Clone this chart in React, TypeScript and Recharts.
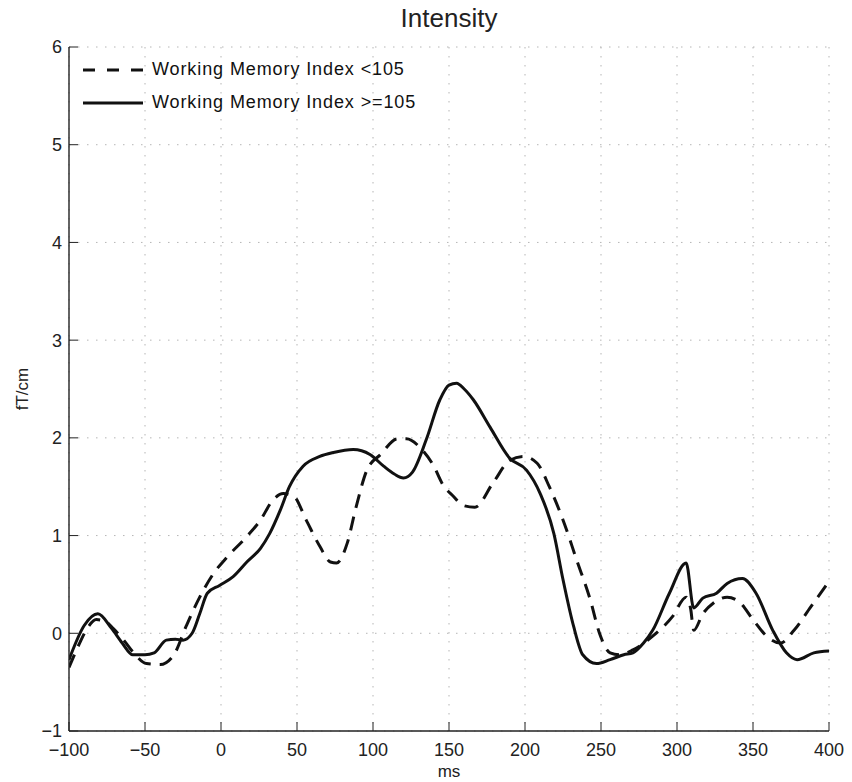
import React from "react";
import {
  LineChart,
  Line,
  XAxis,
  YAxis,
  CartesianGrid,
  Legend,
} from "recharts";

// ---- Data ----
const seriesNames = ["Working Memory Index <105", "Working Memory Index >=105"];

const xTicks = [-100, -50, 0, 50, 100, 150, 200, 250, 300, 350, 400];
const yTicks = [-1, 0, 1, 2, 3, 4, 5, 6];

// dashed series (<105)
const lowMs = [
  -100, -93, -88, -82, -76, -71, -64, -58, -49, -40, -31, -23, -14, -5, 4, 17, 26, 34, 41, 48, 56, 65, 72,
  76, 83, 89, 96, 105, 116, 122, 131, 140, 146, 153, 159, 167, 179, 190, 199, 208, 216, 225, 234, 243,
  249, 256, 262, 271, 284, 297, 306, 309, 311, 317, 324, 333, 341, 350, 359, 368, 377, 388, 400,
];
const lowVals = [
  -0.35, -0.1, 0.05, 0.14, 0.12, 0.05, -0.07, -0.19, -0.31, -0.32, -0.22, 0.07, 0.37, 0.61, 0.78, 0.99,
  1.16, 1.36, 1.43, 1.4, 1.16, 0.89, 0.73, 0.72, 0.92, 1.3, 1.67, 1.83, 1.99, 1.99, 1.9, 1.71, 1.52,
  1.4, 1.31, 1.29, 1.54, 1.77, 1.81, 1.74, 1.5, 1.16, 0.75, 0.34, 0.0, -0.2, -0.22, -0.17, -0.03, 0.17,
  0.37, 0.25, 0.03, 0.2, 0.31, 0.37, 0.32, 0.14, -0.03, -0.1, 0.03, 0.27, 0.53,
];

// solid series (>=105)
const highMs = [
  -100, -90, -81, -72, -65, -58, -50, -44, -36, -30, -25, -19, -14, -9, -1, 8, 17, 26, 32, 39, 45, 54,
  65, 74, 87, 98, 107, 114, 120, 126, 135, 144, 150, 155, 160, 166, 177, 190, 201, 210, 219, 225, 232,
  238, 247, 256, 265, 271, 278, 284, 295, 306, 311, 317, 326, 333, 343, 352, 363, 372, 379, 390, 400,
];
const highVals = [
  -0.27, 0.08, 0.2, 0.05, -0.1, -0.22, -0.22, -0.2, -0.07, -0.06, -0.07, 0.0, 0.2, 0.41, 0.49, 0.58,
  0.73, 0.87, 1.02, 1.26, 1.5, 1.71, 1.81, 1.85, 1.88, 1.83, 1.71, 1.63, 1.59, 1.65, 1.98, 2.39, 2.54,
  2.56, 2.5, 2.39, 2.11, 1.79, 1.67, 1.43, 1.02, 0.55, 0.07, -0.22, -0.31, -0.27, -0.22, -0.2, -0.1,
  0.03, 0.41, 0.72, 0.26, 0.36, 0.41, 0.51, 0.56, 0.41, 0.03, -0.2, -0.27, -0.2, -0.18,
];

const lowData = lowMs.map((ms, i) => ({ ms, v: lowVals[i] }));
const highData = highMs.map((ms, i) => ({ ms, v: highVals[i] }));

const FONT = '"Liberation Sans", Arial, Helvetica, sans-serif';
const INK = "#111";
const fmt = (v: number) => String(v).replace("-", "\u2212");

const legendDash = ["12 12", undefined];

const renderLegend = (props: any) => {
  const payload = props.payload || [];
  return (
    <div style={{ fontFamily: FONT, fontSize: 18, letterSpacing: 0.9, color: INK }}>
      {payload.map((e: any, i: number) => (
        <div key={i} style={{ display: "flex", alignItems: "center", height: 33 }}>
          <svg width={60} height={10} style={{ display: "block" }}>
            <line
              x1={0}
              y1={5}
              x2={60}
              y2={5}
              stroke={INK}
              strokeWidth={3}
              strokeDasharray={legendDash[i]}
            />
          </svg>
          <span style={{ marginLeft: 9, whiteSpace: "nowrap" }}>{e.value}</span>
        </div>
      ))}
    </div>
  );
};

export default function App() {
  const tickStyle = { fontFamily: FONT, fontSize: 18, fill: "#222" };
  return (
    <div
      style={{
        position: "absolute",
        left: 0,
        top: 0,
        width: 852,
        height: 782,
        background: "#fff",
        overflow: "hidden",
      }}
    >
      <div
        style={{
          position: "absolute",
          left: 69,
          width: 760,
          top: 5,
          textAlign: "center",
          fontFamily: FONT,
          fontSize: 26,
          lineHeight: "26px",
          color: "#222",
          zIndex: 2,
        }}
      >
        Intensity
      </div>
      <LineChart
        width={852}
        height={782}
        margin={{ top: 47, right: 23, bottom: 0, left: 0 }}
      >
        <CartesianGrid
          stroke="#b5b5b5"
          strokeDasharray="1.5 7.5"
          strokeWidth={1}
        />
        <XAxis
          dataKey="ms"
          type="number"
          domain={[-100, 400]}
          ticks={xTicks}
          allowDataOverflow
          height={51}
          tickSize={-9}
          tickMargin={21}
          tick={tickStyle}
          tickFormatter={fmt}
          tickLine={{ stroke: "#222", strokeWidth: 1 }}
          axisLine={{ stroke: "#222", strokeWidth: 1.4 }}
          label={{
            value: "ms",
            position: "insideBottom",
            offset: 5,
            style: { fontFamily: FONT, fontSize: 17, fill: "#222" },
          }}
        />
        <XAxis
          xAxisId="top"
          orientation="top"
          dataKey="ms"
          type="number"
          domain={[-100, 400]}
          ticks={xTicks}
          allowDataOverflow
          height={0}
          tickSize={-9}
          tick={false}
          tickLine={{ stroke: "#222", strokeWidth: 1 }}
          axisLine={{ stroke: "#222", strokeWidth: 1.4 }}
        />
        <YAxis
          type="number"
          domain={[-1, 6]}
          ticks={yTicks}
          allowDataOverflow
          width={69}
          tickSize={-9}
          tickMargin={16}
          tick={tickStyle}
          tickFormatter={fmt}
          tickLine={{ stroke: "#222", strokeWidth: 1 }}
          axisLine={{ stroke: "#222", strokeWidth: 1.4 }}
          label={{
            value: "fT/cm",
            content: () => (
              <text
                x={28}
                y={389}
                transform="rotate(-90, 28, 389)"
                textAnchor="middle"
                fontFamily={FONT}
                fontSize={17}
                fill="#222"
              >
                fT/cm
              </text>
            ),
          }}
        />
        <YAxis
          yAxisId="right"
          orientation="right"
          type="number"
          domain={[-1, 6]}
          ticks={yTicks}
          allowDataOverflow
          width={0}
          tickSize={-9}
          tick={false}
          tickLine={{ stroke: "#222", strokeWidth: 1 }}
          axisLine={{ stroke: "#222", strokeWidth: 1.4 }}
        />
        <Legend
          layout="vertical"
          align="center"
          verticalAlign="middle"
          content={renderLegend}
          wrapperStyle={{ top: 53, left: 83, width: 400, height: 70 }}
        />
        <Line
          name={seriesNames[0]}
          data={lowData}
          dataKey="v"
          type="monotone"
          stroke={INK}
          strokeWidth={3}
          strokeDasharray="14 9"
          dot={false}
          activeDot={false}
          isAnimationActive={false}
        />
        <Line
          name={seriesNames[1]}
          data={highData}
          dataKey="v"
          type="monotone"
          stroke={INK}
          strokeWidth={3}
          dot={false}
          activeDot={false}
          isAnimationActive={false}
        />
      </LineChart>
    </div>
  );
}
